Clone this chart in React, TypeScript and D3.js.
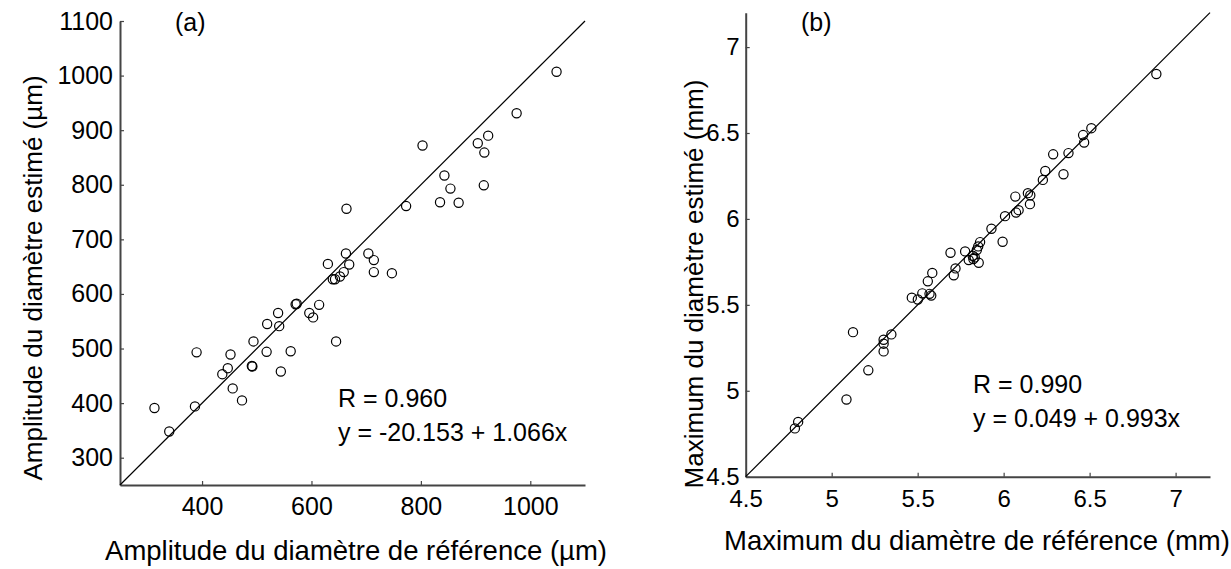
import { useEffect, useRef } from "react";
import * as d3 from "d3";

// panel (a): amplitude (µm), reference vs estimated
const ampRef = [
    1048, 975, 803, 904, 923, 916, 843, 854, 915, 835, 869, 773, 664, 663, 704,
    714, 630, 669, 714, 747, 639, 643, 652, 659, 571, 573, 614, 596, 603, 539,
    519, 541, 645, 494, 390, 452, 518, 562, 447, 437, 491, 492, 544, 456, 473,
    313, 387, 340,
];
const ampEst = [
    1007, 931, 872, 876, 890, 859, 817, 793, 799, 768, 767, 761, 756, 674, 674,
    662, 655, 654, 640, 638, 627, 627, 632, 640, 581, 582, 580, 565, 557, 565,
    545, 541, 513, 513, 493, 489, 494, 495, 464, 453, 468, 467, 458, 427, 405,
    391, 394, 348,
];
const ampTicks = [400, 600, 800, 1000];
const ampYTicks = [300, 400, 500, 600, 700, 800, 900, 1000, 1100];

// panel (b): maximum (mm), reference vs estimated
const maxRef = [
    6.888, 6.51, 6.462, 6.468, 6.377, 6.288, 6.348, 6.242, 6.228, 6.068, 6.141,
    6.155, 6.153, 6.072, 6.087, 6.008, 5.929, 5.994, 5.863, 5.852, 5.844, 5.776,
    5.691, 5.82, 5.832, 5.824, 5.797, 5.855, 5.72, 5.71, 5.585, 5.559, 5.527,
    5.569, 5.579, 5.466, 5.501, 5.124, 5.347, 5.302, 5.302, 5.302, 5.213, 5.086,
    4.805, 4.786,
];
const maxEst = [
    6.843, 6.528, 6.488, 6.445, 6.383, 6.376, 6.26, 6.279, 6.227, 6.13, 6.15,
    6.138, 6.086, 6.037, 6.051, 6.016, 5.943, 5.867, 5.865, 5.84, 5.819, 5.811,
    5.803, 5.786, 5.776, 5.767, 5.761, 5.745, 5.712, 5.672, 5.686, 5.637, 5.567,
    5.564, 5.554, 5.542, 5.531, 5.341, 5.328, 5.297, 5.274, 5.229, 5.119, 4.949,
    4.819, 4.781,
];
const maxTicks = [4.5, 5, 5.5, 6, 6.5, 7];

const FONT = "'Liberation Sans', Arial, Helvetica, sans-serif";

function drawPanel(
    svg: any,
    xs: number[],
    ys: number[],
    domain: [number, number],
    box: { left: number; right: number; top: number; bottom: number },
    xTicks: number[],
    yTicks: number[],
    opts: any,
) {
    const x = d3.scaleLinear().domain(domain).range([box.left, box.right]);
    const y = d3.scaleLinear().domain(domain).range([box.bottom, box.top]);
    const g = svg.append("g");

    const xAxis = g
        .append("g")
        .attr("transform", `translate(0,${box.bottom})`)
        .call(
            d3
                .axisBottom(x)
                .tickValues(xTicks)
                .tickFormat(d3.format("~g") as any)
                .tickSizeInner(-4)
                .tickSizeOuter(0)
                .tickPadding(opts.xPad),
        );
    const yAxis = g
        .append("g")
        .attr("transform", `translate(${box.left},0)`)
        .call(
            d3
                .axisLeft(y)
                .tickValues(yTicks)
                .tickFormat(d3.format("~g") as any)
                .tickSizeInner(-4)
                .tickSizeOuter(0)
                .tickPadding(opts.yPad),
        );
    [xAxis, yAxis].forEach((a) => {
        a.select(".domain").attr("stroke", "#444").attr("stroke-width", 2);
        a.selectAll(".tick line").attr("stroke", "#444").attr("stroke-width", 1.2);
        a.selectAll("text")
            .attr("fill", "#000")
            .style("font-family", FONT)
            .style("font-size", opts.tickFont + "px");
    });

    // y = x reference line
    g.append("line")
        .attr("x1", x(domain[0]))
        .attr("y1", y(domain[0]))
        .attr("x2", x(domain[1]))
        .attr("y2", y(domain[1]))
        .attr("stroke", "#000")
        .attr("stroke-width", 1.2);

    g.append("g")
        .selectAll("circle")
        .data(xs.map((v, i) => [v, ys[i]]))
        .enter()
        .append("circle")
        .attr("cx", (d: number[]) => x(d[0]))
        .attr("cy", (d: number[]) => y(d[1]))
        .attr("r", 4.6)
        .attr("fill", "none")
        .attr("stroke", "#000")
        .attr("stroke-width", 1.2);

    const txt = (tx: number, ty: number, s: string, size: number, anchor = "start") =>
        g
            .append("text")
            .attr("x", tx)
            .attr("y", ty)
            .attr("text-anchor", anchor)
            .style("font-family", FONT)
            .style("font-size", size + "px")
            .attr("fill", "#000")
            .text(s);

    txt(opts.tag[0], opts.tag[1], opts.tag[2], 25);
    txt(opts.stats[0], opts.stats[1], opts.stats[2], 25);
    txt(opts.stats[0], opts.stats[1] + 34, opts.stats[3], 25);
    txt(opts.xTitle[0], opts.xTitle[1], opts.xTitle[2], 27.5, "middle");
    txt(0, 0, opts.yTitle[2], 26, "middle").attr(
        "transform",
        `translate(${opts.yTitle[0]},${opts.yTitle[1]}) rotate(-90)`,
    );
}

export default function App() {
    const ref = useRef<SVGSVGElement>(null);

    useEffect(() => {
        const svg = d3.select(ref.current);
        svg.selectAll("*").remove();

        drawPanel(
            svg,
            ampRef,
            ampEst,
            [250, 1100],
            { left: 120, right: 585, top: 21, bottom: 485 },
            ampTicks,
            ampYTicks,
            {
                xPad: 12,
                yPad: 7,
                tickFont: 25,
                tag: [175, 31, "(a)"],
                stats: [338, 407, "R = 0.960", "y = -20.153 + 1.066x"],
                xTitle: [356, 560, "Amplitude du diamètre de référence (µm)"],
                yTitle: [42, 278, "Amplitude du diamètre estimé (µm)"],
            },
        );

        drawPanel(
            svg,
            maxRef,
            maxEst,
            [4.5, 7.2],
            { left: 745.7, right: 1210, top: 12.7, bottom: 476.7 },
            maxTicks,
            maxTicks,
            {
                xPad: 13,
                yPad: 6,
                tickFont: 24,
                tag: [801, 31, "(b)"],
                stats: [973, 393, "R = 0.990", "y = 0.049 + 0.993x"],
                xTitle: [977, 550, "Maximum du diamètre de référence (mm)"],
                yTitle: [703, 284, "Maximum du diamètre estimé (mm)"],
            },
        );
    }, []);

    return (
        <svg
            ref={ref}
            width={1231}
            height={569}
            style={{ position: "absolute", left: 0, top: 0, background: "#fff" }}
        />
    );
}
